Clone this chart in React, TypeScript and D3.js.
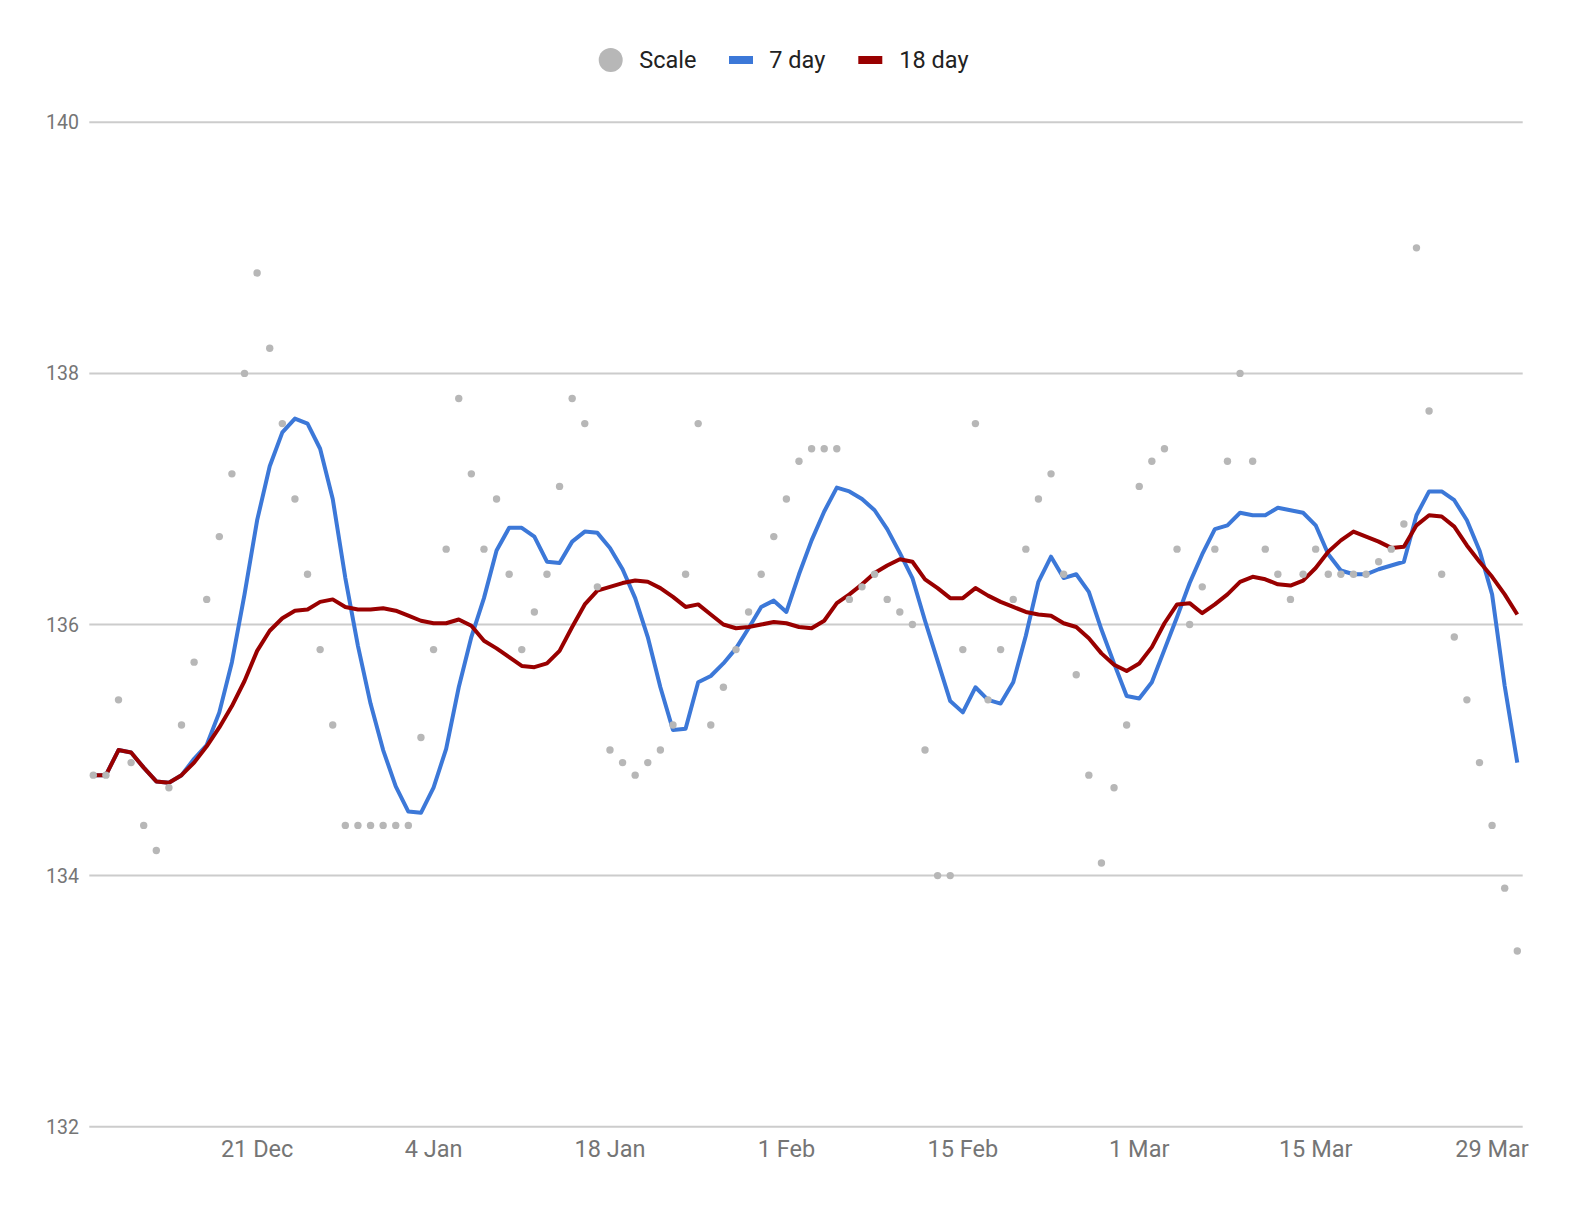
import * as d3 from 'd3'

// daily weigh-ins, starting 8 Dec
const startDate = new Date(Date.UTC(2017, 11, 8))

const scaleValues = [
  134.8, 134.8, 135.4, 134.9, 134.4, 134.2, 134.7, 135.2, 135.7, 136.2,
  136.7, 137.2, 138.0, 138.8, 138.2, 137.6, 137.0, 136.4, 135.8, 135.2,
  134.4, 134.4, 134.4, 134.4, 134.4, 134.4, 135.1, 135.8, 136.6, 137.8,
  137.2, 136.6, 137.0, 136.4, 135.8, 136.1, 136.4, 137.1, 137.8, 137.6,
  136.3, 135.0, 134.9, 134.8, 134.9, 135.0, 135.2, 136.4, 137.6, 135.2,
  135.5, 135.8, 136.1, 136.4, 136.7, 137.0, 137.3, 137.4, 137.4, 137.4,
  136.2, 136.3, 136.4, 136.2, 136.1, 136.0, 135.0, 134.0, 134.0, 135.8,
  137.6, 135.4, 135.8, 136.2, 136.6, 137.0, 137.2, 136.4, 135.6, 134.8,
  134.1, 134.7, 135.2, 137.1, 137.3, 137.4, 136.6, 136.0, 136.3, 136.6,
  137.3, 138.0, 137.3, 136.6, 136.4, 136.2, 136.4, 136.6, 136.4, 136.4,
  136.4, 136.4, 136.5, 136.6, 136.8, 139.0, 137.7, 136.4, 135.9, 135.4,
  134.9, 134.4, 133.9, 133.4
]

const sevenDay = [
  134.80, 134.80, 135.00, 134.98, 134.86, 134.75, 134.74, 134.80, 134.93, 135.04,
  135.30, 135.70, 136.24, 136.83, 137.26, 137.53, 137.64, 137.60, 137.40, 137.00,
  136.37, 135.83, 135.37, 135.00, 134.71, 134.51, 134.50, 134.70, 135.01, 135.50,
  135.90, 136.21, 136.59, 136.77, 136.77, 136.70, 136.50, 136.49, 136.66, 136.74,
  136.73, 136.61, 136.44, 136.21, 135.90, 135.50, 135.16, 135.17, 135.54, 135.59,
  135.69, 135.81, 135.97, 136.14, 136.19, 136.10, 136.40, 136.67, 136.90, 137.09,
  137.06, 137.00, 136.91, 136.76, 136.57, 136.37, 136.03, 135.71, 135.39, 135.30,
  135.50, 135.40, 135.37, 135.54, 135.91, 136.34, 136.54, 136.37, 136.40, 136.26,
  135.96, 135.69, 135.43, 135.41, 135.54, 135.80, 136.06, 136.33, 136.56, 136.76,
  136.79, 136.89, 136.87, 136.87, 136.93, 136.91, 136.89, 136.79, 136.56, 136.43,
  136.40, 136.40, 136.44, 136.47, 136.50, 136.87, 137.06, 137.06, 136.99, 136.83,
  136.59, 136.24, 135.51, 134.90
]

const eighteenDay = [
  134.80, 134.80, 135.00, 134.98, 134.86, 134.75, 134.74, 134.80, 134.90, 135.03,
  135.18, 135.35, 135.55, 135.79, 135.95, 136.05, 136.11, 136.12, 136.18, 136.20,
  136.14, 136.12, 136.12, 136.13, 136.11, 136.07, 136.03, 136.01, 136.01, 136.04,
  135.99, 135.87, 135.81, 135.74, 135.67, 135.66, 135.69, 135.79, 135.98, 136.16,
  136.27, 136.30, 136.33, 136.35, 136.34, 136.29, 136.22, 136.14, 136.16, 136.08,
  136.00, 135.97, 135.98, 136.00, 136.02, 136.01, 135.98, 135.97, 136.03, 136.17,
  136.24, 136.32, 136.41, 136.47, 136.52, 136.50, 136.36, 136.29, 136.21, 136.21,
  136.29, 136.23, 136.18, 136.14, 136.10, 136.08, 136.07, 136.01, 135.98, 135.89,
  135.77, 135.68, 135.63, 135.69, 135.82, 136.01, 136.16, 136.17, 136.09, 136.16,
  136.24, 136.34, 136.38, 136.36, 136.32, 136.31, 136.35, 136.45, 136.58, 136.67,
  136.74, 136.70, 136.66, 136.61, 136.62, 136.79, 136.87, 136.86, 136.78, 136.63,
  136.50, 136.38, 136.24, 136.08
]

const xTickDates = ['2017-12-21', '2018-01-04', '2018-01-18', '2018-02-01', '2018-02-15', '2018-03-01', '2018-03-15', '2018-03-29']
const yTicks = [132, 134, 136, 138, 140]

const width = 1574
const height = 1216
const plotLeft = 89.3
const plotRight = 1522.7
const font = 'Roboto, "Noto Sans", Arial, sans-serif'

const COLORS = { scale: '#b7b7b7', seven: '#3c78d8', eighteen: '#990000', grid: '#cccccc', axisText: '#757575' }

export default function App() {
  const dates = scaleValues.map((_, i) => d3.utcDay.offset(startDate, i))

  const x = d3.scaleUtc()
    .domain([dates[0], dates[dates.length - 1]])
    .range([93.3, 1517.3])

  const y = d3.scaleLinear()
    .domain([132, 140])
    .range([1126.7, 122.3])

  const line = d3.line<number>()
    .x((_, i) => x(dates[i]))
    .y(d => y(d))

  const fmt = d3.utcFormat('%-d %b')

  return (
    <svg
      width={width}
      height={height}
      style={{ position: 'absolute', left: 0, top: 0, background: '#fff' }}
      fontFamily={font}
    >
      {/* legend */}
      <g>
        <circle cx={610.7} cy={60} r={12} fill={COLORS.scale} />
        <text x={639.3} y={67.5} fontSize={23.5} fill="#222">Scale</text>
        <rect x={729} y={56} width={24} height={8} fill={COLORS.seven} />
        <text x={769.3} y={67.5} fontSize={23.5} fill="#222">7 day</text>
        <rect x={858.3} y={56} width={24} height={8} fill={COLORS.eighteen} />
        <text x={899.3} y={67.5} fontSize={23.5} fill="#222">18 day</text>
      </g>

      {/* gridlines + y labels */}
      {yTicks.map(t => (
        <g key={t}>
          <line x1={plotLeft} x2={plotRight} y1={y(t)} y2={y(t)} stroke={COLORS.grid} strokeWidth={2} />
          <text x={79} y={y(t) + 7} textAnchor="end" fontSize={19.5} fill={COLORS.axisText}>{t}</text>
        </g>
      ))}

      {/* x labels */}
      {xTickDates.map(s => {
        const d = new Date(s + 'T00:00:00Z')
        return (
          <text key={s} x={x(d)} y={1156.7} textAnchor="middle" fontSize={23.5} fill={COLORS.axisText}>
            {fmt(d)}
          </text>
        )
      })}

      {/* moving averages */}
      <path d={line(sevenDay) ?? ''} fill="none" stroke={COLORS.seven} strokeWidth={4} strokeLinejoin="round" />
      <path d={line(eighteenDay) ?? ''} fill="none" stroke={COLORS.eighteen} strokeWidth={4} strokeLinejoin="round" />

      {/* raw readings */}
      {scaleValues.map((v, i) => (
        <circle key={i} cx={x(dates[i])} cy={y(v)} r={3.7} fill={COLORS.scale} />
      ))}
    </svg>
  )
}
